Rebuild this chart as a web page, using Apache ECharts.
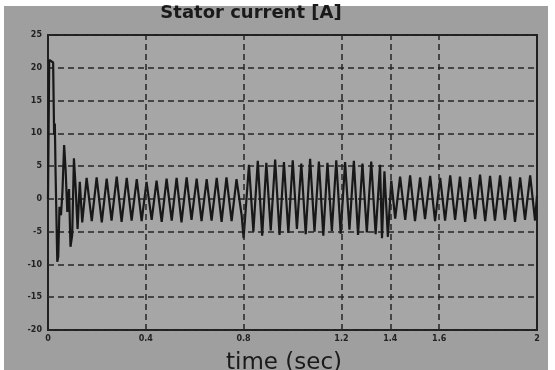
<!DOCTYPE html>
<html>
<head>
<meta charset="utf-8">
<script src="https://cdn.jsdelivr.net/npm/echarts@6/dist/echarts.min.js"></script>
<style>html,body{margin:0;padding:0;background:#fff}#c{width:555px;height:370px}</style>
</head>
<body>
<div id="c"></div>
<script>
// time (s) of each sampled extremum of the trace
var time = [
  0.000, 0.005, 0.021, 0.025, 0.028, 0.031, 0.038, 0.042, 0.047, 0.053, 0.059, 0.066, 0.072, 0.079, 0.086, 0.092, 0.099, 0.106, 0.113, 0.121, 0.130, 0.140,
  0.158, 0.179, 0.199, 0.220, 0.240, 0.260, 0.281, 0.301, 0.322, 0.342, 0.363, 0.383, 0.403, 0.424, 0.444, 0.465,
  0.485, 0.506, 0.526, 0.546, 0.567, 0.587, 0.608, 0.628, 0.649, 0.669, 0.690, 0.710, 0.730, 0.751, 0.771, 0.792,
  0.800, 0.822, 0.840, 0.858, 0.876, 0.893, 0.911, 0.929, 0.947, 0.965, 0.983, 1.001, 1.018, 1.036, 1.054, 1.072,
  1.090, 1.108, 1.126, 1.143, 1.161, 1.179, 1.197, 1.215, 1.233, 1.251, 1.268, 1.286, 1.304, 1.322, 1.340, 1.358, 1.366,
  1.376, 1.390, 1.404, 1.420, 1.440, 1.461, 1.481, 1.501, 1.522, 1.542, 1.563, 1.583, 1.604, 1.624, 1.645, 1.665,
  1.685, 1.706, 1.726, 1.747, 1.767, 1.788, 1.808, 1.828, 1.849, 1.869, 1.890, 1.910, 1.931, 1.951, 1.972, 1.992, 2.000
];
// stator current (A) at those times
var current = [
  0, 21.2, 20.8, 9.8, 11.5, 4.0, -9.6, -8.8, -1.2, -2.5, 1.0, 8.2, 4.5, -2.0, 1.5, -7.3, -5.5, 6.2, 1.8, -4.6, 2.6, -3.6,
  3.2, -3.4, 3.3, -3.6, 3.1, -3.3, 3.4, -3.5, 3.2, -3.3, 3.0, -3.4, 2.6, -3.2, 2.8, -3.5,
  3.1, -3.3, 3.2, -3.6, 3.3, -3.2, 3.1, -3.4, 3.0, -3.3, 3.2, -3.5, 3.3, -3.4, 3.0, -2.5,
  -6.0, 5.2, -5.0, 5.8, -5.6, 5.5, -4.8, 6.0, -5.5, 5.6, -5.2, 5.9, -4.6, 5.4, -5.4, 6.1,
  -5.0, 5.7, -5.6, 5.5, -4.9, 5.9, -5.3, 5.6, -4.7, 5.8, -5.5, 5.4, -5.1, 5.7, -5.4, 5.2, -6.0,
  4.2, -5.8, 2.8, -3.0, 3.4, -3.2, 3.6, -3.4, 3.3, -3.1, 3.5, -3.4, 3.2, -3.3, 3.6, -3.2,
  3.4, -3.5, 3.3, -3.1, 3.7, -3.4, 3.5, -3.3, 3.6, -3.2, 3.4, -3.5, 3.3, -3.2, 3.6, -3.3, 0.5
];
var xTickLabels = ['0', '0.4', '0.8', '1.2', '1.4', '1.6', '2'];
var xGridValues = [0.4, 0.8, 1.2, 1.4, 1.6];
var yTicks = { min: -20, max: 25, step: 5 };

var chart = echarts.init(document.getElementById('c'), null, { renderer: 'canvas' });
var dash = { color: '#262626', width: 1.5, type: [6, 4] };
var option = {
  animation: false,
  backgroundColor: '#9f9f9f',
  grid: { left: 48, right: 18, top: 35, bottom: 40, show: true, backgroundColor: '#a6a6a6', borderColor: '#202020', borderWidth: 2 },
  xAxis: {
    type: 'value', min: 0, max: 2, interval: 0.2,
    axisLine: { show: false }, axisTick: { show: false }, splitLine: { show: false },
    axisLabel: {
      fontSize: 8, color: '#222', fontFamily: 'DejaVu Sans', fontWeight: 'bold', margin: 5,
      formatter: function (v) {
        var s = String(Math.round(v * 10) / 10);
        return xTickLabels.indexOf(s) >= 0 ? s : '';
      }
    }
  },
  yAxis: {
    type: 'value', min: yTicks.min, max: yTicks.max, interval: yTicks.step,
    axisLine: { show: false }, axisTick: { show: false },
    splitLine: { show: true, lineStyle: dash },
    axisLabel: { fontSize: 8, color: '#222', fontFamily: 'DejaVu Sans', fontWeight: 'bold', margin: 6 }
  },
  series: [{
    type: 'line',
    data: time.map(function (t, i) { return [t, current[i]]; }),
    showSymbol: false,
    lineStyle: { color: '#181818', width: 2.2 },
    markLine: {
      silent: true, symbol: ['none', 'none'], label: { show: false },
      lineStyle: dash,
      data: xGridValues.map(function (v) { return { xAxis: v }; })
    },
    z: 3
  }],
  graphic: [
    { type: 'rect', shape: { x: 0, y: 0, width: 555, height: 6 }, style: { fill: '#fff' }, z: 100 },
    { type: 'rect', shape: { x: 548, y: 0, width: 7, height: 370 }, style: { fill: '#fff' }, z: 100 },
    { type: 'rect', shape: { x: 0, y: 0, width: 4, height: 370 }, style: { fill: '#fff' }, z: 100 },
    { type: 'text', style: { text: 'Stator current [A]', x: 251, y: 13, textAlign: 'center', textVerticalAlign: 'middle', font: 'bold 18px "DejaVu Sans"', fill: '#1a1a1a' }, z: 100 },
    { type: 'text', style: { text: 'time (sec)', x: 284, y: 363, textAlign: 'center', textVerticalAlign: 'middle', font: '23px "DejaVu Sans"', fill: '#1a1a1a' }, z: 100 }
  ]
};
chart.setOption(option);
</script>
</body>
</html>
